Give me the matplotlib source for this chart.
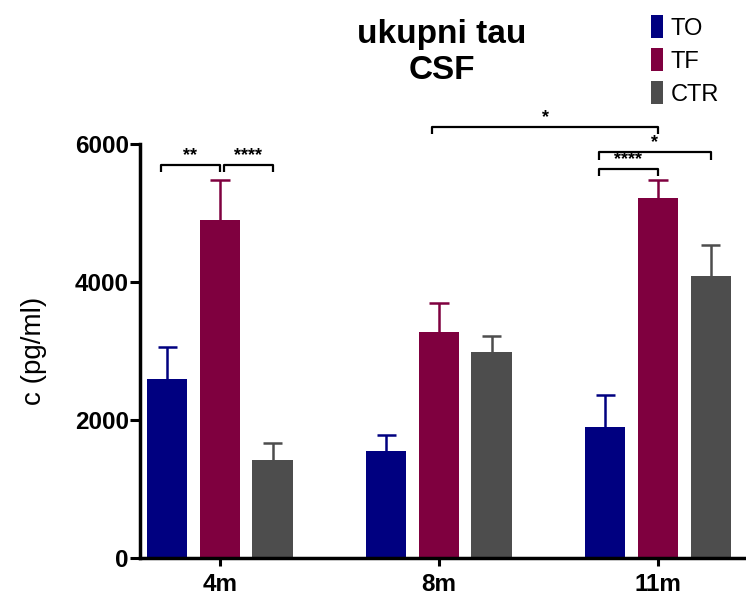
import matplotlib
matplotlib.use("Agg")
import matplotlib.pyplot as plt
import numpy as np

plt.rcParams['font.family'] = ['Liberation Sans', 'DejaVu Sans']

groups = ['4m', '8m', '11m']
series = ['TO', 'TF', 'CTR']
colors = ['#000080', '#7f003f', '#4d4d4d']
means = {
    'TO': [2594, 1551, 1899],
    'TF': [4899, 3275, 5217],
    'CTR': [1420, 2986, 4087],
}
errs = {
    'TO': [464, 232, 463],
    'TF': [579, 421, 261],
    'CTR': [247, 231, 449],
}
# significance brackets: (group_a, series_a, group_b, series_b, height, label)
brackets = [
    (0, 'TO', 0, 'TF', 5700, '**'),
    (0, 'TF', 0, 'CTR', 5700, '****'),
    (1, 'TF', 2, 'TF', 6250, '*'),
    (2, 'TO', 2, 'CTR', 5880, '*'),
    (2, 'TO', 2, 'TF', 5640, '****'),
]

offset = 0.24
width = 0.183
cap = 0.045
x = np.arange(len(groups))

fig = plt.figure(figsize=(7.46, 5.97), dpi=100)
ax = fig.add_axes([0.1877, 0.0653, 0.8097, 0.6935])

for i, s in enumerate(series):
    xs = x + (i - 1) * offset
    m = np.array(means[s])
    top = m + np.array(errs[s])
    ax.bar(xs, m, width=width, color=colors[i], label=s, zorder=2)
    # upper error bars only
    ax.vlines(xs, m, top, color=colors[i], lw=1.8, zorder=1)
    ax.hlines(top, xs - cap, xs + cap, color=colors[i], lw=1.8, zorder=1)


def pos(g, s):
    return g + (series.index(s) - 1) * offset


for ga, sa, gb, sb, h, lab in brackets:
    x1, x2 = pos(ga, sa) - 0.03, pos(gb, sb)
    if sa == 'TF' and ga == gb:
        x1 = pos(ga, sa) + 0.02
    ax.plot([x1, x1, x2, x2], [h - 110, h, h, h - 110], color='black',
            lw=1.6, clip_on=False, solid_capstyle='butt')
    ax.text((x1 + x2) / 2, h + 10, lab, ha='center', va='bottom',
            fontsize=13, fontweight='bold', clip_on=False)

ax.set_xlim(-0.365, 2.393)
ax.set_ylim(0, 6000)
ax.set_yticks([0, 2000, 4000, 6000])
ax.set_xticks(x)
ax.set_xticklabels(groups)
for lab in ax.get_xticklabels() + ax.get_yticklabels():
    lab.set_fontweight('bold')
    lab.set_fontsize(17.5)
ax.tick_params(axis='y', length=7, width=2.2, pad=1)
ax.tick_params(axis='x', length=6, width=2.2, pad=5)
ax.spines['top'].set_visible(False)
ax.spines['right'].set_visible(False)
ax.spines['left'].set_linewidth(2.5)
ax.spines['bottom'].set_linewidth(2.5)
ax.set_ylabel('c (pg/ml)', fontsize=20, labelpad=20)

fig.text(0.592, 0.968, 'ukupni tau\nCSF', ha='center', va='top',
         fontsize=24, fontweight='bold', linespacing=1.2)

fig.legend(loc='upper left', bbox_to_anchor=(0.872, 0.975), frameon=False,
           fontsize=17, handlelength=0.55, handleheight=1.15, handletextpad=0.3,
           labelspacing=0.35, borderaxespad=0, borderpad=0)

fig.savefig('out.png', dpi=100)
